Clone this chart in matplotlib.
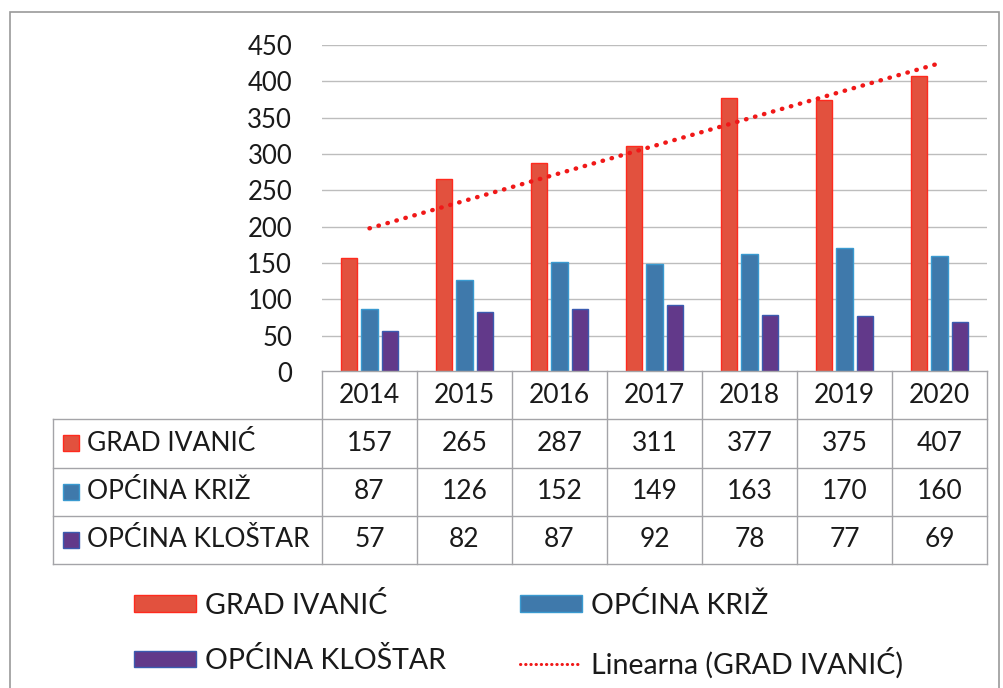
import matplotlib

matplotlib.use("Agg")
import matplotlib.pyplot as plt
import numpy as np
from matplotlib.lines import Line2D
from matplotlib.patches import Patch, Rectangle

plt.rcParams["font.family"] = ["Lato", "DejaVu Sans"]

years = ["2014", "2015", "2016", "2017", "2018", "2019", "2020"]
series_names = ["GRAD IVANIĆ", "OPĆINA KRIŽ", "OPĆINA KLOŠTAR"]
grad_ivanic = [157, 265, 287, 311, 377, 375, 407]
opcina_kriz = [87, 126, 152, 149, 163, 170, 160]
opcina_klostar = [57, 82, 87, 92, 78, 77, 69]
trend_label = "Linearna (GRAD IVANIĆ)"
y_ticks = [0, 50, 100, 150, 200, 250, 300, 350, 400, 450]

fills = ["#E2513E", "#3F79AB", "#62398A"]
edges = ["#FF2A1E", "#3A9AD0", "#3B5BB0"]
grid_col = "#BDBDBD"
table_col = "#A4A4A8"

W, H = 1004, 688
fig = plt.figure(figsize=(W / 100, H / 100), dpi=100)


def fx(px):
    return px / W


def fy(py):
    return 1 - py / H


# main plot area
ax = fig.add_axes([fx(322), fy(372), fx(987) - fx(322), fy(45) - fy(372)])
x = np.arange(len(years))
values = [grad_ivanic, opcina_kriz, opcina_klostar]
bar_w = 0.175
step = 0.215
for i, vals in enumerate(values):
    ax.bar(x + (i - 1) * step, vals, width=bar_w, color=fills[i],
           edgecolor=edges[i], linewidth=1.0, zorder=3)

coeffs = np.polyfit(x, grad_ivanic, 1)
ax.plot(x, np.polyval(coeffs, x), color="#F01818", linestyle=(0, (0.1, 2.0)),
        linewidth=3.2, dash_capstyle="round", zorder=4)

ax.set_xlim(-0.5, len(years) - 0.5)
ax.set_ylim(0, 450)
ax.set_yticks(y_ticks)
ax.set_xticks([])
ax.tick_params(axis="y", length=0, pad=21.5, labelsize=18.5, labelcolor="#1a1a1a")
ax.grid(axis="y", color=grid_col, linewidth=1.0, zorder=0)
for s in ax.spines.values():
    s.set_visible(False)

# data table under the plot
unit_px = (987 - 322) / len(years)
left_x = -0.5 - (322 - 53) / unit_px
tax = fig.add_axes([fx(53), fy(564), fx(987) - fx(53), fy(371) - fy(564)])
tax.set_xlim(left_x, len(years) - 0.5)
tax.set_ylim(0, 4)
tax.axis("off")

lw = 1.0
tax.plot([-0.5, len(years) - 0.5], [4, 4], color=table_col, lw=lw, clip_on=False)
for r in range(4):
    tax.plot([left_x, len(years) - 0.5], [r, r], color=table_col, lw=lw, clip_on=False)
for k in range(len(years) + 1):
    tax.plot([k - 0.5, k - 0.5], [0, 4], color=table_col, lw=lw, clip_on=False)
tax.plot([left_x, left_x], [0, 3], color=table_col, lw=lw, clip_on=False)

for j, yr in enumerate(years):
    tax.text(j, 3.5, yr, ha="center", va="center", fontsize=19, color="#1a1a1a")
for i, (name, vals) in enumerate(zip(series_names, values)):
    yc = 2.5 - i
    tax.plot(left_x + (71 - 53) / unit_px, yc, marker="s", markersize=11.5,
             color=fills[i], markeredgecolor=edges[i], clip_on=False)
    tax.text(left_x + (87 - 53) / unit_px, yc, name, ha="left", va="center",
             fontsize=19, color="#1a1a1a")
    for j, v in enumerate(vals):
        tax.text(j, yc, str(v), ha="center", va="center", fontsize=19, color="#1a1a1a")

# legend
handles = [
    Patch(facecolor=fills[0], edgecolor=edges[0], label=series_names[0]),
    Patch(facecolor=fills[2], edgecolor=edges[2], label=series_names[2]),
    Patch(facecolor=fills[1], edgecolor=edges[1], label=series_names[1]),
    Line2D([0], [0], color="#F01818", linestyle=(0, (0.1, 1.6)), linewidth=2.2,
           dash_capstyle="round", label=trend_label),
]
fig.legend(handles=handles, ncol=2, loc="upper left",
           bbox_to_anchor=(fx(108), fy(566)), frameon=False, fontsize=20.5,
           handlelength=2.2, handleheight=0.5, handletextpad=0.3,
           columnspacing=2.6, labelspacing=1.0, labelcolor="#1a1a1a")

# outer chart border
fig.add_artist(Rectangle((fx(10), fy(H + 20)), fx(999) - fx(10), fy(12) - fy(H + 20),
                         transform=fig.transFigure, fill=False,
                         edgecolor="#9A9A9A", linewidth=1.2))

fig.savefig("out.png", dpi=100)
